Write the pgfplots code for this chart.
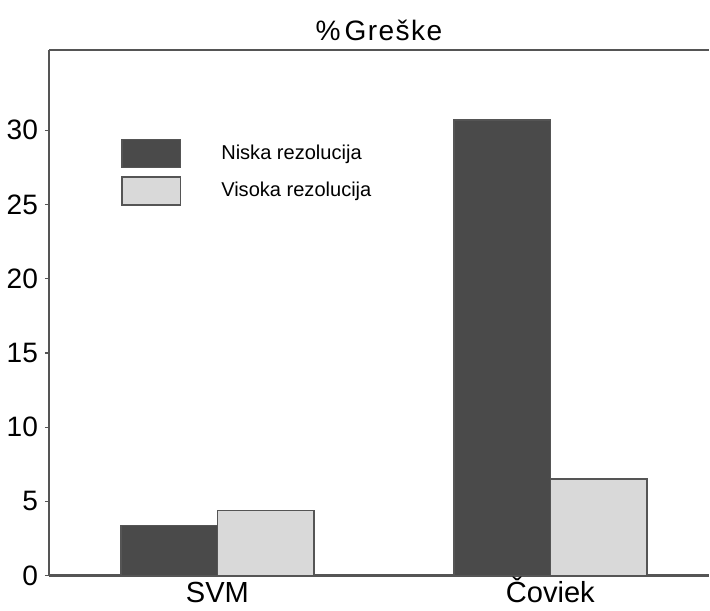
\documentclass[border=0pt]{standalone}
\usepackage{fontspec}
\setmainfont{Liberation Sans}
\usepackage{pgfplots}
\pgfplotsset{compat=1.18}
\definecolor{darkbar}{HTML}{4A4A4A}
\definecolor{lightbar}{HTML}{D9D9D9}
\definecolor{edge}{HTML}{555555}
\begin{document}
\begin{tikzpicture}
\begin{axis}[
  scale only axis,
  width=329pt, height=262pt,
  xmin=-0.506, xmax=1.476,
  ymin=0, ymax=35.4,
  axis x line=box,
  axis y line*=left,
  axis line style={edge, line width=1.2pt},
  xtick={0,1}, xticklabels={SVM, Čoviek},
  xtick style={draw=none},
  x tick label style={font=\fontsize{14.5}{16}\selectfont, anchor=north, text height=10.4pt, text depth=4pt, inner sep=0pt, yshift=-1pt},
  ytick={0,5,10,15,20,25,30},
  y tick label style={font=\fontsize{14}{16}\selectfont},
  ytick style={edge, line width=0.6pt},
  tick align=outside, major tick length=2pt,
  /pgf/number format/assume math mode=true,
  title={\%\kern2pt G\kern0.7pt r\kern0.7pt e\kern0.7pt š\kern0.7pt k\kern0.7pt e},
  title style={font=\fontsize{14}{16}\selectfont, at={(0.5,1)}, anchor=base, inner sep=0pt, text height=20pt, text depth=0pt, yshift=-1pt},
  ybar=0pt, bar width=0.29,
  legend style={draw=none, fill=none, at={(0.1,0.84)}, anchor=north west,
    font=\fontsize{10}{12}\selectfont, row sep=4pt,
    /tikz/every odd column/.append style={column sep=0pt}},
  legend cell align=left,
  legend image code/.code={\draw[#1] (0pt,-7pt) rectangle (29pt,7pt);},
]
\addplot[fill=darkbar, draw=edge, line width=0.8pt] coordinates {(0,3.37) (1,30.7)};
\addplot[fill=lightbar, draw=edge, line width=0.8pt] coordinates {(0,4.37) (1,6.5)};
\legend{\hspace{18pt}Niska rezolucija, \hspace{18pt}Visoka rezolucija}
\end{axis}
\end{tikzpicture}
\end{document}
